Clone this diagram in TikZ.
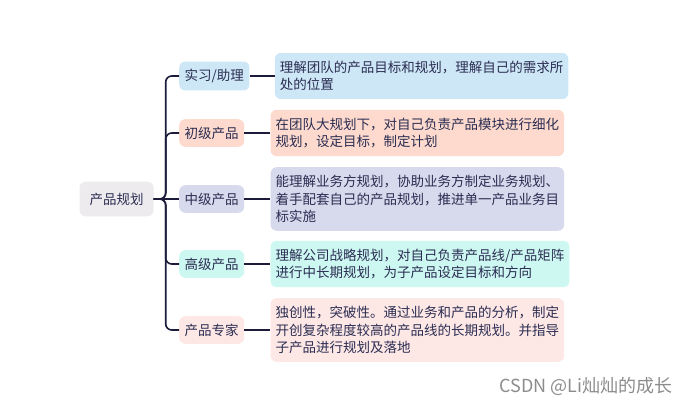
\documentclass[tikz,border=0pt]{standalone}
\usepackage{fontspec}
\setmainfont{Noto Sans CJK SC}
\usetikzlibrary{positioning}

\definecolor{inkblue}{HTML}{2B2D52}
\definecolor{linkblue}{HTML}{1C1C3A}
\definecolor{rootgray}{HTML}{EDEBEE}
\definecolor{fillA}{HTML}{CDE7F6}
\definecolor{fillB}{HTML}{FDDACD}
\definecolor{fillC}{HTML}{D7D9EC}
\definecolor{fillD}{HTML}{CDF8F2}
\definecolor{fillE}{HTML}{FDE8E6}

\tikzset{
  root/.style={fill=rootgray, rounded corners=6pt, inner xsep=10pt, inner ysep=11pt,
    text=inkblue, font=\fontsize{13.5}{17.5}\selectfont},
  level/.style={rounded corners=6pt, inner xsep=5.5pt, inner ysep=7.5pt,
    text=inkblue, font=\fontsize{13.5}{17.5}\selectfont},
  detail/.style={rounded corners=6pt, inner xsep=5pt, inner ysep=8pt, align=left,
    text=inkblue, font=\fontsize{13.5}{17.5}\selectfont},
  link/.style={draw=linkblue, line width=1.6pt, rounded corners=6pt},
}

\begin{document}
\begin{tikzpicture}[x=1pt,y=-1pt]
            \useasboundingbox (0,0) rectangle (692,407);

            \node[root] (plan) at (116.5,199) {产品规划};

            \node[level,fill=fillA,anchor=west] (intern) at (179,76) {实习/助理};
            \node[level,fill=fillB,anchor=west] (junior) at (179,133) {初级产品};
            \node[level,fill=fillC,anchor=west] (middle) at (179,199) {中级产品};
            \node[level,fill=fillD,anchor=west] (senior) at (179,264) {高级产品};
            \node[level,fill=fillE,anchor=west] (expert) at (179,330) {产品专家};

            \node[detail,fill=fillA,right=25pt of intern] (intern-d) {理解团队的产品目标和规划，理解自己的需求所\\处的位置};
            \node[detail,fill=fillB,right=26pt of junior] (junior-d) {在团队大规划下，对自己负责产品模块进行细化\\规划，设定目标，制定计划};
            \node[detail,fill=fillC,right=26pt of middle] (middle-d) {能理解业务方规划，协助业务方制定业务规划、\\着手配套自己的产品规划，推进单一产品业务目\\标实施};
            \node[detail,fill=fillD,right=26pt of senior] (senior-d) {理解公司战略规划，对自己负责产品线/产品矩阵\\进行中长期规划，为子产品设定目标和方向};
            \node[detail,fill=fillE,right=26pt of expert] (expert-d) {独创性，突破性。通过业务和产品的分析，制定\\开创复杂程度较高的产品线的长期规划。并指导\\子产品进行规划及落地};

            \node[anchor=east, text=black!45, font=\fontsize{18}{20}\selectfont] (mark) at (676,386) {CSDN @Li灿灿的成长};

            \draw[link] (plan.east) -- ++(12,0) |- (intern.west);
            \draw[link] (plan.east) -- ++(12,0) |- (junior.west);
            \draw[link] (plan.east) -- (middle.west);
            \draw[link] (plan.east) -- ++(12,0) |- (senior.west);
            \draw[link] (plan.east) -- ++(12,0) |- (expert.west);

            \draw[link] (intern) -- (intern-d);
            \draw[link] (junior) -- (junior-d);
            \draw[link] (middle) -- (middle-d);
            \draw[link] (senior) -- (senior-d);
            \draw[link] (expert) -- (expert-d);
          \end{tikzpicture}
\end{document}
